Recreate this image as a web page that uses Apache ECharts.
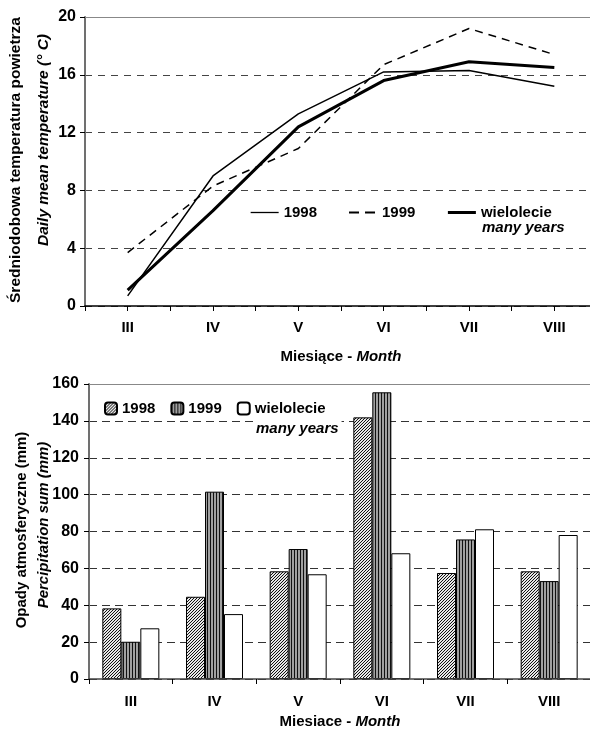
<!DOCTYPE html>
<html>
<head>
<meta charset="utf-8">
<script src="https://cdn.jsdelivr.net/npm/echarts@6/dist/echarts.min.js"></script>
<style>
html,body{margin:0;padding:0;background:#fff;}
#c{width:590px;height:729px;}
</style>
</head>
<body>
<div id="c"></div>
<script>
// ---- data ----
var months = ['III', 'IV', 'V', 'VI', 'VII', 'VIII'];
var temp1998 = [0.7, 9.0, 13.3, 16.2, 16.3, 15.2];
var temp1999 = [3.7, 8.3, 10.9, 16.7, 19.2, 17.4];
var tempMany = [1.1, 6.6, 12.4, 15.6, 16.9, 16.5];
var tempTicks = [0, 4, 8, 12, 16, 20];
var prec1998 = [38.3, 44.6, 58.4, 141.9, 57.5, 58.4];
var prec1999 = [20.2, 101.6, 70.5, 155.5, 75.7, 53.1];
var precMany = [27.5, 35.2, 56.8, 68.2, 81.2, 78.1];
var precTicks = [0, 20, 40, 60, 80, 100, 120, 140, 160];

var FONT = '"Liberation Sans", Arial, sans-serif';

function makePattern(w, h, draw) {
  var cv = document.createElement('canvas');
  cv.width = w; cv.height = h;
  var ctx = cv.getContext('2d');
  draw(ctx);
  return { image: cv, repeat: 'repeat' };
}
var hatch = makePattern(3, 3, function (ctx) {
  ctx.fillStyle = '#e6e6e6'; ctx.fillRect(0, 0, 3, 3);
  ctx.fillStyle = '#111';
  ctx.fillRect(0, 2, 1, 1); ctx.fillRect(1, 1, 1, 1); ctx.fillRect(2, 0, 1, 1);
});
var stripes = makePattern(3, 3, function (ctx) {
  ctx.fillStyle = '#a0a0a0'; ctx.fillRect(0, 0, 3, 3);
  ctx.fillStyle = '#111'; ctx.fillRect(0, 0, 1, 3);
});

var labelsMap = {
  'T1998': '1998', 'T1999': '1999', 'Tmany': 'wielolecie',
  'P1998': '1998', 'P1999': '1999', 'Pmany': 'wielolecie'
};

function pairs(arr) { return arr.map(function (v, i) { return [i + 1, v]; }); }

var chart = echarts.init(document.getElementById('c'), null, { renderer: 'canvas' });

var axisLabelStyle = { fontFamily: FONT, fontWeight: 'bold', fontSize: 15, color: '#000' };
var nameRich = {
  a: { fontFamily: FONT, fontWeight: 'bold', fontSize: 15, color: '#000' },
  b: { fontFamily: FONT, fontWeight: 'bold', fontStyle: 'italic', fontSize: 15, color: '#000' }
};

var option = {
  animation: false,
  backgroundColor: '#fff',
  textStyle: { fontFamily: FONT },
  grid: [
    { left: 85, top: 17, width: 512, height: 289, containLabel: false, outerBoundsMode: 'none' },
    { left: 89, top: 384, width: 502, height: 295, containLabel: false, outerBoundsMode: 'none' }
  ],
  legend: [
    {
      data: [
        { name: 'T1998', lineStyle: { width: 1.3, type: 'solid', color: '#000' } },
        { name: 'T1999', lineStyle: { width: 2, type: [10, 6], color: '#000' } },
        { name: 'Tmany', lineStyle: { width: 3, type: 'solid', color: '#000' } }
      ],
      left: 250, top: 205, padding: 0,
      itemWidth: 28, itemHeight: 14, itemGap: 31,
      itemStyle: { opacity: 0 },
      formatter: function (n) { return labelsMap[n]; },
      textStyle: { fontFamily: FONT, fontWeight: 'bold', fontSize: 15, color: '#000' },
      selectedMode: false
    },
    {
      data: ['P1998', 'P1999', 'Pmany'],
      left: 104, top: 401, padding: 0,
      itemWidth: 12, itemHeight: 12, itemGap: 15,
      formatter: function (n) { return labelsMap[n]; },
      textStyle: { fontFamily: FONT, fontWeight: 'bold', fontSize: 15, color: '#000' },
      selectedMode: false
    }
  ],
  xAxis: [
    {
      gridIndex: 0, type: 'value', min: 0.5, max: 6.5, interval: 0.5,
      axisLine: { show: true, onZero: false, lineStyle: { color: '#000', width: 1.5 } },
      axisTick: { show: true, length: 5, lineStyle: { color: '#000', width: 1 } },
      splitLine: { show: false },
      axisLabel: Object.assign({
        margin: 14,
        formatter: function (v) {
          var i = Math.round(v);
          return (Math.abs(v - i) < 1e-6 && i >= 1 && i <= months.length) ? months[i - 1] : '';
        }
      }, axisLabelStyle),
      name: '{a|Miesiące - }{b|Month}',
      nameLocation: 'middle', nameGap: 43,
      nameTextStyle: { rich: nameRich },
      z: 5
    },
    {
      gridIndex: 0, type: 'value', position: 'top', min: 0.5, max: 6.5,
      axisLine: { show: true, onZero: false, lineStyle: { color: '#888', width: 1 } },
      axisTick: { show: false }, axisLabel: { show: false }, splitLine: { show: false }
    },
    {
      gridIndex: 1, type: 'category', data: months,
      axisLine: { show: true, onZero: false, lineStyle: { color: '#444', width: 1.5 } },
      axisTick: { show: true, length: 5, lineStyle: { color: '#000', width: 1 } },
      axisLabel: Object.assign({ margin: 15 }, axisLabelStyle),
      name: '{a|Miesiace - }{b|Month}',
      nameLocation: 'middle', nameGap: 35,
      nameTextStyle: { rich: nameRich },
      z: 5
    },
    {
      gridIndex: 1, type: 'category', data: months, position: 'top',
      axisLine: { show: true, onZero: false, lineStyle: { color: '#888', width: 1 } },
      axisTick: { show: false }, axisLabel: { show: false }, splitLine: { show: false }
    }
  ],
  yAxis: [
    {
      gridIndex: 0, type: 'value', min: tempTicks[0], max: tempTicks[tempTicks.length - 1], interval: 4,
      axisLine: { show: true, lineStyle: { color: '#707070', width: 2 } },
      axisTick: { show: true, length: 5, lineStyle: { color: '#000', width: 1 } },
      axisLabel: Object.assign({ margin: 9 }, axisLabelStyle, { fontSize: 16 }),
      splitLine: { show: true, lineStyle: { color: '#444', width: 1, type: [7, 6] } }
    },
    {
      gridIndex: 1, type: 'value', min: precTicks[0], max: precTicks[precTicks.length - 1], interval: 20,
      axisLine: { show: true, lineStyle: { color: '#707070', width: 2 } },
      axisTick: { show: true, length: 5, lineStyle: { color: '#000', width: 1 } },
      axisLabel: Object.assign({ margin: 10 }, axisLabelStyle, { fontSize: 16 }),
      splitLine: { show: true, lineStyle: { color: '#333', width: 1, type: [8, 5] } }
    }
  ],
  series: [
    {
      name: 'T1998', type: 'line', xAxisIndex: 0, yAxisIndex: 0,
      data: pairs(temp1998), symbol: 'none',
      lineStyle: { color: '#000', width: 1.5, type: 'solid' },
      itemStyle: { color: '#000' }, z: 3
    },
    {
      name: 'T1999', type: 'line', xAxisIndex: 0, yAxisIndex: 0,
      data: pairs(temp1999), symbol: 'none',
      lineStyle: { color: '#000', width: 1.5, type: [8, 6] },
      itemStyle: { color: '#000' }, z: 3
    },
    {
      name: 'Tmany', type: 'line', xAxisIndex: 0, yAxisIndex: 0,
      data: pairs(tempMany), symbol: 'none',
      lineStyle: { color: '#000', width: 3, type: 'solid' },
      itemStyle: { color: '#000' }, z: 3
    },
    {
      name: 'P1998', type: 'bar', xAxisIndex: 2, yAxisIndex: 1,
      data: prec1998, barWidth: 19, barGap: '0%',
      itemStyle: { color: hatch, borderColor: '#000', borderWidth: 1 }
    },
    {
      name: 'P1999', type: 'bar', xAxisIndex: 2, yAxisIndex: 1,
      data: prec1999, barWidth: 19, barGap: '0%',
      itemStyle: { color: stripes, borderColor: '#000', borderWidth: 1 }
    },
    {
      name: 'Pmany', type: 'bar', xAxisIndex: 2, yAxisIndex: 1,
      data: precMany, barWidth: 19, barGap: '0%',
      itemStyle: { color: '#fff', borderColor: '#000', borderWidth: 1 }
    }
  ],
  graphic: [
    { type: 'text', x: 16, y: 160, rotation: Math.PI / 2,
      style: { text: 'Średniodobowa temperatura powietrza', font: 'bold 15.5px ' + FONT, fill: '#000', align: 'center', verticalAlign: 'middle' } },
    { type: 'text', x: 44, y: 140, rotation: Math.PI / 2,
      style: { text: 'Daily mean temperature (° C)', font: 'italic bold 15.5px ' + FONT, fill: '#000', align: 'center', verticalAlign: 'middle' } },
    { type: 'text', x: 22, y: 530, rotation: Math.PI / 2,
      style: { text: 'Opady atmosferyczne (mm)', font: 'bold 15px ' + FONT, fill: '#000', align: 'center', verticalAlign: 'middle' } },
    { type: 'text', x: 44, y: 525, rotation: Math.PI / 2,
      style: { text: 'Percipitation sum (mm)', font: 'italic bold 15px ' + FONT, fill: '#000', align: 'center', verticalAlign: 'middle' } },
    { type: 'text', x: 482, y: 228, z: 100,
      style: { text: 'many years', font: 'italic bold 15px ' + FONT, fill: '#000', align: 'left', verticalAlign: 'middle' } },
    { type: 'text', x: 253, y: 429, z: 100,
      style: { text: 'many years', font: 'italic bold 15px ' + FONT, fill: '#000', align: 'left', verticalAlign: 'middle', backgroundColor: '#fff', padding: [2, 3, 2, 3] } }
  ]
};
chart.setOption(option);
</script>
</body>
</html>
